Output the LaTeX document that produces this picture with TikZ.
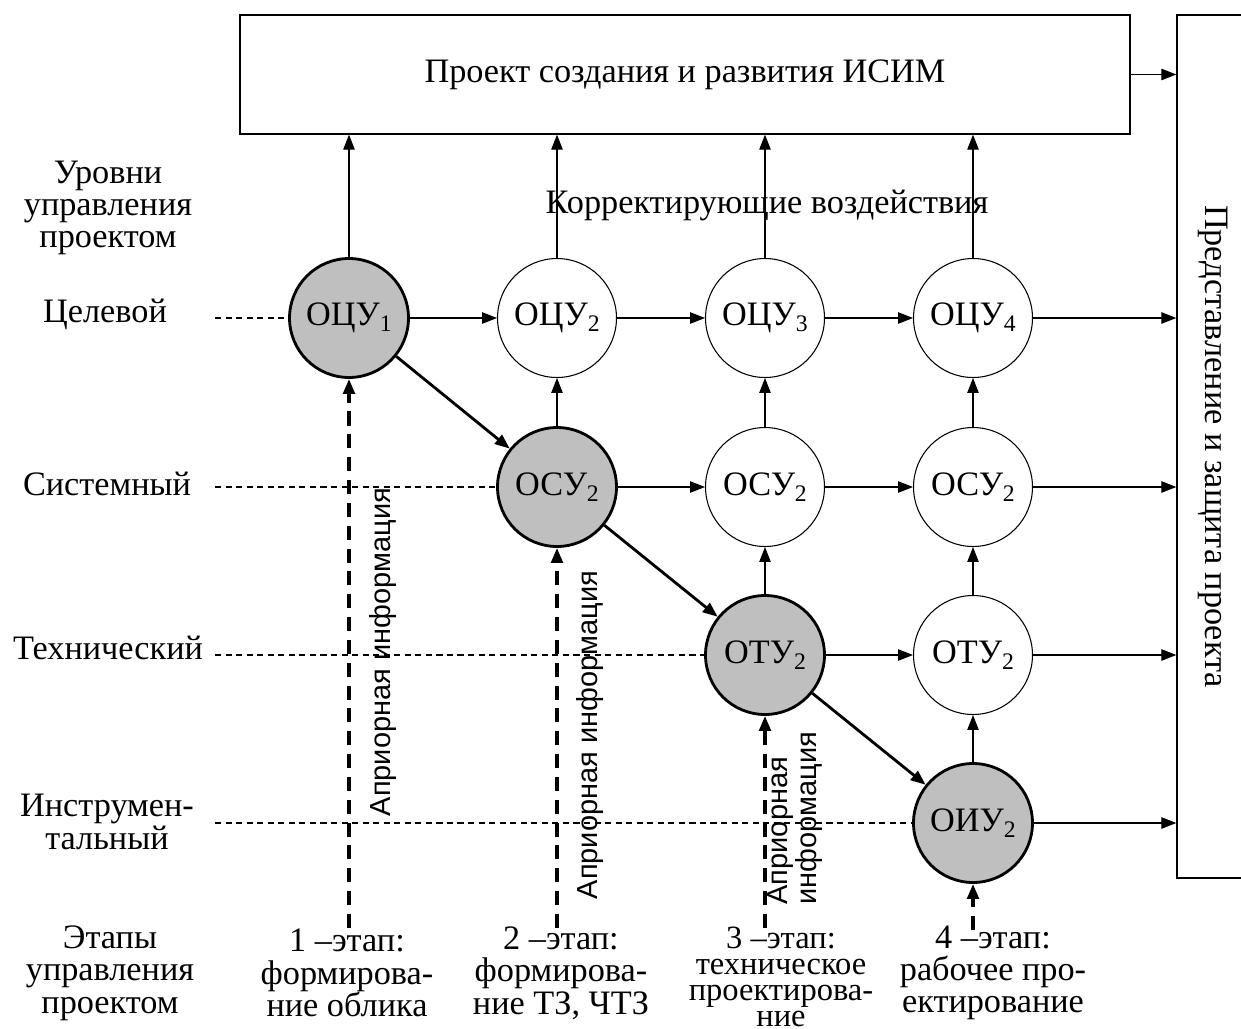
\documentclass[tikz,border=0pt]{standalone}
\usepackage{fontspec}
\setmainfont{Liberation Serif}
\newfontfamily\arialfont{Liberation Sans}
\usetikzlibrary{arrows.meta}

\newcommand{\lvsub}[1]{\raisebox{-0.4ex}{\fontsize{13.5}{13.5}\selectfont #1}}

\begin{document}
\begin{tikzpicture}[x=0.02cm,y=-0.02cm,
  font=\fontsize{19.5}{18.4}\selectfont,
  >={Triangle[length=8.5pt,width=6.5pt]},
  level/.style={circle,draw,line width=0.6pt,minimum size=2.38cm,inner sep=0pt},
  active/.style={level,fill=lightgray,line width=1.6pt},
  flow/.style={->,line width=0.6pt},
  jump/.style={->,line width=1.6pt},
  prior/.style={->,line width=2pt,dash pattern=on 8pt off 5pt},
  guide/.style={line width=0.6pt,dash pattern=on 3.5pt off 2.5pt},
  note/.style={align=center,inner sep=0pt},
  side/.style={font=\fontsize{16.5}{14.2}\selectfont\arialfont,rotate=90,inner sep=0pt,align=left}]
  \useasboundingbox (0,0) rectangle (1241,1028);

  %project box
  \node[draw,line width=0.8pt,minimum width=17.8cm,minimum height=2.38cm] (proj) at (685,74.5) {Проект создания и развития ИСИМ};

  %presentation box
  \node[draw,line width=0.8pt,minimum width=1.44cm,minimum height=17.26cm] (pres) at (1213,446.5) {};
  \node[rotate=-90] (prestext) at (pres.center) {Представление и защита проекта};

  %levels
  \node[note] (levels) at (108,208) {Уровни\\управления\\проектом};
  \node[note] (goal) at (105,314) {Целевой};
  \node[note] (system) at (107,484) {Системный};
  \node[note] (techn) at (108,648) {Технический};
  \node[note,font=\fontsize{19.5}{15.3}\selectfont] (instr) at (107,822) {Инструмен-\\тальный};

  %stages
  \node[note] (stages) at (110,973) {Этапы\\управления\\проектом};
  \node[note] (stage1) at (347,973) {1 –этап:\\формирова-\\ние облика};
  \node[note] (stage2) at (561,973) {2 –этап:\\формирова-\\ние ТЗ, ЧТЗ};
  \node[note,font=\fontsize{18.5}{14.8}\selectfont] (stage3) at (781,977) {3 –этап:\\техническое\\проектирова-\\ние};
  \node[note] (stage4) at (993,973) {4 –этап:\\рабочее про-\\ектирование};

  %circles
  \node[active] (cel1) at (349,318) {ОЦУ\lvsub{1}};
  \node[level] (cel2) at (557,318) {ОЦУ\lvsub{2}};
  \node[level] (cel3) at (765,318) {ОЦУ\lvsub{3}};
  \node[level] (cel4) at (973,318) {ОЦУ\lvsub{4}};
  \node[active] (sys2) at (557,487) {ОСУ\lvsub{2}};
  \node[level] (sys3) at (765,487) {ОСУ\lvsub{2}};
  \node[level] (sys4) at (973,487) {ОСУ\lvsub{2}};
  \node[active] (teh3) at (765,655) {ОТУ\lvsub{2}};
  \node[level] (teh4) at (973,655) {ОТУ\lvsub{2}};
  \node[active] (ins4) at (973,823) {ОИУ\lvsub{2}};

  %guide lines
  \coordinate (g1) at (215,318);
  \coordinate (g2) at (215,487);
  \coordinate (g3) at (215,655);
  \coordinate (g4) at (215,823);
  \draw[guide] (g1) -- (cel1);
  \draw[guide] (g2) -- (sys2);
  \draw[guide] (g3) -- (teh3);
  \draw[guide] (g4) -- (ins4);

  %a priori information
  \coordinate (p1) at (349,928);
  \coordinate (p2) at (557,928);
  \coordinate (p3) at (765,928);
  \coordinate (p4) at (973,930);
  \draw[prior] (p1) -- (cel1);
  \draw[prior] (p2) -- (sys2);
  \draw[prior] (p3) -- (teh3);
  \draw[prior] (p4) -- (ins4);
  \node[side] (prior1) at (383,652) {Априорная информация};
  \node[side] (prior2) at (590,735) {Априорная информация};
  \node[side] (prior3) at (795,818) {Априорная\\информация};

  %corrections
  \draw[flow] (cel1) -- (cel1 |- proj.south);
  \draw[flow] (cel2) -- (cel2 |- proj.south);
  \draw[flow] (cel3) -- (cel3 |- proj.south);
  \draw[flow] (cel4) -- (cel4 |- proj.south);
  \node (corr) at (767,205) {Корректирующие воздействия};

  %rows
  \draw[flow] (cel1) -- (cel2);
  \draw[flow] (cel2) -- (cel3);
  \draw[flow] (cel3) -- (cel4);
  \draw[flow] (cel4) -- (cel4 -| pres.west);
  \draw[flow] (sys2) -- (sys3);
  \draw[flow] (sys3) -- (sys4);
  \draw[flow] (sys4) -- (sys4 -| pres.west);
  \draw[flow] (teh3) -- (teh4);
  \draw[flow] (teh4) -- (teh4 -| pres.west);
  \draw[flow] (ins4) -- (ins4 -| pres.west);
  \draw[flow] (proj.east) -- (proj.east -| pres.west);

  %columns
  \draw[flow] (sys2) -- (cel2);
  \draw[flow] (teh3) -- (sys3);
  \draw[flow] (sys3) -- (cel3);
  \draw[flow] (ins4) -- (teh4);
  \draw[flow] (teh4) -- (sys4);
  \draw[flow] (sys4) -- (cel4);

  %diagonal
  \draw[jump] (cel1) -- (sys2);
  \draw[jump] (sys2) -- (teh3);
  \draw[jump] (teh3) -- (ins4);
\end{tikzpicture}
\end{document}
